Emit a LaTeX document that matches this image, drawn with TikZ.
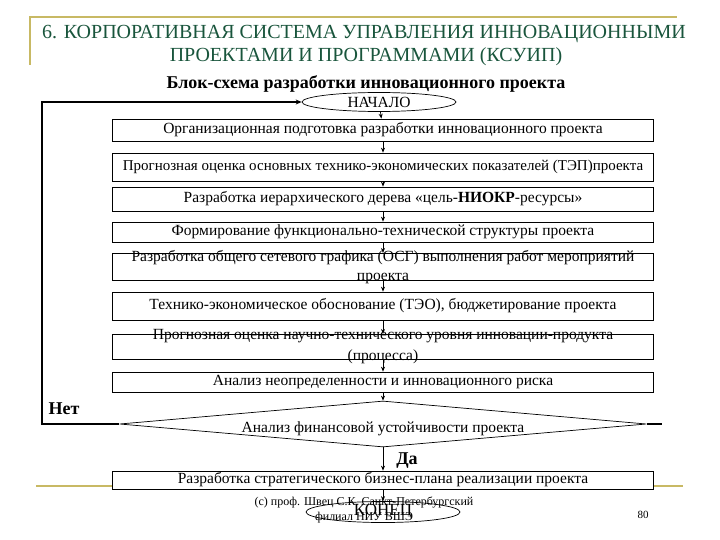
\documentclass[tikz,border=0pt]{standalone}
\usepackage{fontspec}
\setmainfont{Liberation Serif}
\usetikzlibrary{shapes.geometric, arrows.meta, positioning}
\definecolor{titlegreen}{RGB}{25,85,60}
\definecolor{ruleolive}{RGB}{200,185,100}

\begin{document}
\begin{tikzpicture}[
  x=1pt, y=-1pt,
  font=\fontsize{15.5}{17}\selectfont,
  stage/.style={rectangle, draw=black, line width=0.7pt, fill=white,
              minimum width=541pt, inner xsep=2pt, inner ysep=0pt,
              align=center},
  term/.style={ellipse, draw=black, line width=0.7pt, inner sep=0pt,
              minimum width=154pt, minimum height=19pt},
  check/.style={diamond, draw=black, line width=0.7pt, fill=white,
              shape aspect=11, inner sep=0pt,
              minimum width=527pt, minimum height=46pt},
  arr/.style={-{Stealth[length=5pt,width=4pt]}, line width=0.7pt},
  looparr/.style={-{Stealth[length=6pt,width=5pt]}, line width=1.8pt},
  rule/.style={line width=2.2pt, ruleolive},
  ttl/.style={text=titlegreen, font=\fontsize{20}{22}\selectfont},
  yesno/.style={font=\bfseries\fontsize{18}{20}\selectfont},
  foot/.style={font=\fontsize{12}{15}\selectfont, align=center}
]
\useasboundingbox (0,0) rectangle (720,540);

% ── Slide frame rules ──
\coordinate (ruleTL) at (30,17);
\coordinate (ruleTR) at (677,17);
\coordinate (ruleLB) at (30,65);
\coordinate (ruleBL) at (36,486);
\coordinate (ruleBR) at (683,486);
\draw[rule] (ruleLB) -- (ruleTL) -- (ruleTR);
\draw[rule] (ruleBL) -- (ruleBR);

% ── Title ──
\node[ttl] (title1) at (364,34) {6. КОРПОРАТИВНАЯ СИСТЕМА УПРАВЛЕНИЯ ИННОВАЦИОННЫМИ};
\node[ttl] (title2) at (366,57) {ПРОЕКТАМИ И ПРОГРАММАМИ (КСУИП)};
\node[font=\bfseries\fontsize{18}{20}\selectfont] (sub) at (366,84)
  {Блок-схема разработки инновационного проекта};

% ── Flow chart (x = 383, top to bottom) ──
\node[term] (start) at (379,102) {НАЧАЛО};
\node[stage, minimum height=22pt] (org) at (383,130)
  {Организационная подготовка разработки инновационного проекта};
\node[stage, minimum height=28pt, font=\fontsize{15}{17}\selectfont] (tep) at (383,167)
  {Прогнозная оценка основных технико-экономических показателей (ТЭП)проекта};
\node[stage, minimum height=24pt] (tree) at (383,199)
  {Разработка иерархического дерева «цель-\textbf{НИОКР}-ресурсы»};
\node[stage, minimum height=20pt] (fts) at (383,232)
  {Формирование функционально-технической структуры проекта};
\node[stage, inner ysep=-3pt, font=\fontsize{15.5}{19}\selectfont] (osg) at (383,267)
  {Разработка общего сетевого графика (ОСГ) выполнения работ мероприятий\\проекта};
\node[stage, minimum height=28pt] (teo) at (383,306)
  {Технико-экономическое обоснование (ТЭО), бюджетирование проекта};
\node[stage, inner ysep=-4.5pt, font=\fontsize{15.5}{21}\selectfont] (ntu) at (383,347)
  {Прогнозная оценка научно-технического уровня инновации-продукта\\(процесса)};
\node[stage, minimum height=20pt] (risk) at (383,382)
  {Анализ неопределенности и инновационного риска};
\node[check] (fin) at (383,424)
  {\raisebox{-8pt}[0pt][0pt]{Анализ финансовой устойчивости проекта}};
\node[stage, minimum height=18pt] (plan) at (383,480)
  {Разработка стратегического бизнес-плана реализации проекта};
\node[term, font=\fontsize{17}{19}\selectfont] (stop) at (383,512) {КОНЕЦ};

% ── Arrows between stages ──
\draw[arr] (start) -- (org);
\draw[arr] (org)   -- (tep);
\draw[arr] (tep)   -- (tree);
\draw[arr] (tree)  -- (fts);
\draw[arr] (fts)   -- (osg);
\draw[arr] (osg)   -- (teo);
\draw[arr] (teo)   -- (ntu);
\draw[arr] (ntu)   -- (risk);
\draw[arr] (risk)  -- (fin.north);
\draw[arr] (fin.south) -- (plan);
\draw[arr] (plan)  -- (stop);

% ── Return loop "Нет" and right stub ──
\coordinate (loopTop) at (42,102);
\coordinate (stub) at (662,424);
\draw[looparr] (fin.west) -| (loopTop) -- (start.west);
\draw[line width=1.8pt] (fin.east) -- (stub);
\node[yesno] (no)  at (64,409) {Нет};
\node[yesno] (yes) at (407,461) {Да};

% ── Footer ──
\node[foot] (author) at (364,510)
  {(c) проф. Швец С.К. Санкт-Петербургский\\филиал НИУ ВШЭ};
\node[foot, font=\fontsize{11}{13}\selectfont] (page) at (643,515) {80};

\end{tikzpicture}
\end{document}
